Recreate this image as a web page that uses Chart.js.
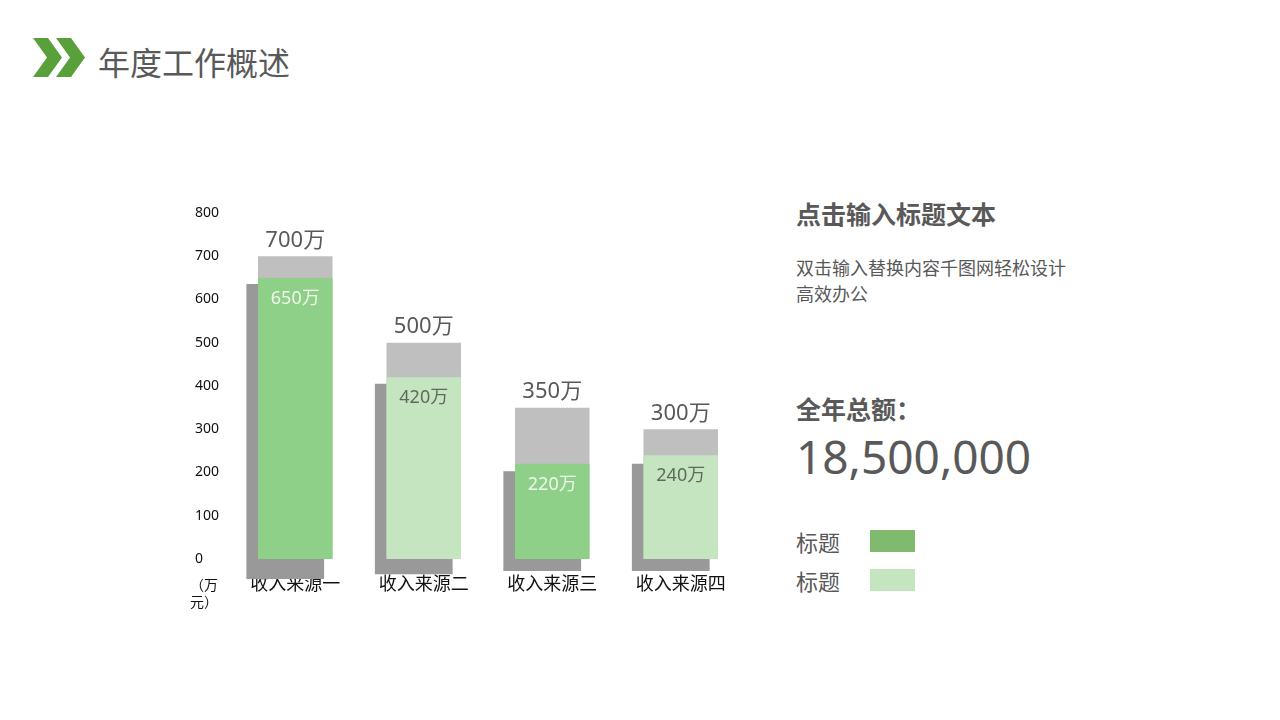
<!DOCTYPE html>
<html lang="zh-CN">
<head>
<meta charset="UTF-8">
<title>年度工作概述</title>
<script src="https://cdn.jsdelivr.net/npm/chart.js"></script>
<style>
    body {
        margin: 0;
        width: 1280px;
        height: 720px;
        background: #ffffff;
        position: relative;
        overflow: hidden;
        font-family: "Noto Sans CJK SC", "Noto Sans", sans-serif;
        color: #595959;
    }
    .logo { position: absolute; left: 30px; top: 36px; }
    .title { position: absolute; left: 98px; top: 39px; font-size: 32px; line-height: 44px; }
    .chart-box { position: absolute; left: 195px; top: 200px; width: 550px; height: 399px; }
    .unit { position: absolute; left: 190px; top: 576px; font-size: 14px; line-height: 17px; color: #111; }
    .side { position: absolute; left: 796px; }
    .h1 { top: 196px; font-size: 25px; font-weight: bold; line-height: 34px; }
    .desc { top: 254px; font-size: 18px; line-height: 26px; }
    .h2 { top: 391px; font-size: 25px; font-weight: bold; line-height: 34px; }
    .total { top: 426px; font-size: 46px; line-height: 60px; font-family: "Noto Sans", sans-serif; }
    .leg { font-size: 22px; line-height: 30px; }
    .sw { position: absolute; left: 870px; width: 45px; height: 22px; }
</style>
</head>
<body>
<svg class="logo" width="60" height="45" viewBox="0 0 60 45">
    <polygon points="3,2 18,2 32,21.5 18,41 3,41 17,21.5" fill="#5aa03a"/>
    <polygon points="26,2 41,2 55,21.5 41,41 26,41 40,21.5" fill="#5aa03a"/>
</svg>
<div class="title">年度工作概述</div>

<div class="chart-box"><canvas id="chart"></canvas></div>
<div class="unit">（万<br>元）</div>

<div class="side h1">点击输入标题文本</div>
<div class="side desc">双击输入替换内容千图网轻松设计<br>高效办公</div>
<div class="side h2">全年总额：</div>
<div class="side total">18,500,000</div>
<div class="side leg" style="top:526px">标题</div>
<div class="side leg" style="top:565px">标题</div>
<div class="sw" style="top:530px;background:#7fba6e"></div>
<div class="sw" style="top:569px;background:#c5e5c0"></div>

<script>
    // 收入数据（万元）
    const categories = ['收入来源一', '收入来源二', '收入来源三', '收入来源四'];
    const totals = [700, 500, 350, 300];
    const actuals = [650, 420, 220, 240];
    // 阴影块 [下沿, 上沿]
    const shadowRanges = [[-46, 636], [-35, 405], [-28, 203], [-28, 220]];
    const yTicks = [0, 100, 200, 300, 400, 500, 600, 700, 800];

    const darkGreen = '#8fd088';
    const lightGreen = '#c5e5c0';
    const actualColors = categories.map((c, i) => i % 2 === 0 ? darkGreen : lightGreen);
    const actualLabelColors = categories.map((c, i) => i % 2 === 0 ? '#eef7ea' : '#5f6a5c');
    const SHADOW_DX = -10;

    // 阴影块整体向左错开
    const shadowShift = {
        id: 'shadowShift',
        beforeDatasetDraw(chart, args) {
            if (chart.data.datasets[args.index].isShadow) {
                chart.ctx.save();
                chart.ctx.translate(SHADOW_DX, 0);
            }
        },
        afterDatasetDraw(chart, args) {
            if (chart.data.datasets[args.index].isShadow) {
                chart.ctx.restore();
            }
        }
    };

    const barLabels = {
        id: 'barLabels',
        afterDatasetsDraw(chart) {
            const ctx = chart.ctx;
            ctx.save();
            ctx.textAlign = 'center';
            ctx.textBaseline = 'middle';
            chart.getDatasetMeta(1).data.forEach((bar, i) => {
                ctx.font = '22px "Noto Sans", "Noto Sans CJK SC", sans-serif';
                ctx.fillStyle = '#595959';
                ctx.fillText(totals[i] + '万', bar.x, bar.y - 16);
            });
            chart.getDatasetMeta(0).data.forEach((bar, i) => {
                ctx.font = '18px "Noto Sans", "Noto Sans CJK SC", sans-serif';
                ctx.fillStyle = actualLabelColors[i];
                ctx.fillText(actuals[i] + '万', bar.x, bar.y + 21);
            });
            ctx.restore();
        }
    };

    new Chart(document.getElementById('chart'), {
        type: 'bar',
        data: {
            labels: categories,
            datasets: [
                {
                    label: '实际',
                    data: actuals,
                    backgroundColor: actualColors,
                    order: 0,
                    barPercentage: 0.58,
                    categoryPercentage: 1
                },
                {
                    label: '目标',
                    data: totals,
                    backgroundColor: '#bfbfbf',
                    order: 1,
                    barPercentage: 0.58,
                    categoryPercentage: 1
                },
                {
                    label: '阴影',
                    data: shadowRanges,
                    backgroundColor: '#999999',
                    order: 2,
                    isShadow: true,
                    clip: false,
                    barPercentage: 0.605,
                    categoryPercentage: 1
                }
            ]
        },
        options: {
            responsive: true,
            maintainAspectRatio: false,
            animation: false,
            grouped: false,
            layout: { padding: { top: 13, left: 0, right: 0, bottom: 0 } },
            plugins: {
                legend: { display: false },
                tooltip: { enabled: false }
            },
            scales: {
                x: {
                    grid: { display: false, drawTicks: false },
                    border: { display: false },
                    ticks: {
                        color: '#111111',
                        padding: 13,
                        font: { family: '"Noto Sans CJK SC", sans-serif', size: 18 }
                    },
                    afterFit: s => { s.height = 40; }
                },
                y: {
                    min: 0,
                    max: 800,
                    grid: { display: false, drawTicks: false },
                    border: { display: false },
                    afterBuildTicks: s => { s.ticks = yTicks.map(v => ({ value: v })); },
                    ticks: {
                        color: '#111111',
                        crossAlign: 'far',
                        font: { family: '"Noto Sans", sans-serif', size: 14 }
                    },
                    afterFit: s => { s.width = 36; }
                }
            }
        },
        plugins: [shadowShift, barLabels]
    });
</script>
</body>
</html>
